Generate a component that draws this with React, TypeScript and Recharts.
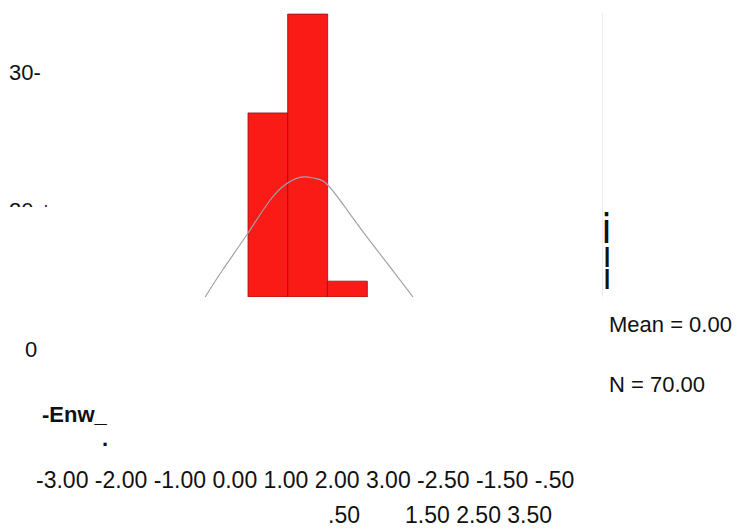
import React from 'react';
import { ComposedChart, Bar, Line, XAxis, YAxis } from 'recharts';

// histogram bins (width .50) and their counts
const bins = [
  { bin: '-.50', count: 22.85 },
  { bin: '0.00', count: 31.9 },
  { bin: '.50', count: 7.45 },
];

// normal curve, points
const curve = [
  { z: -1.04, f: 6.0 },
  { z: -0.82, f: 8.47 },
  { z: -0.5, f: 11.86 },
  { z: -0.22, f: 14.88 },
  { z: 0.0, f: 16.44 },
  { z: 0.2, f: 16.99 },
  { z: 0.35, f: 16.85 },
  { z: 0.5, f: 16.3 },
  { z: 0.75, f: 13.96 },
  { z: 1.0, f: 11.49 },
  { z: 1.29, f: 8.75 },
  { z: 1.58, f: 6.0 },
];

const yLabels = ['30-', '20 +', '0'];
const xTicksTop = ['-3.00', '-2.00', '-1.00', '0.00', '1.00', '2.00', '3.00', '-2.50', '-1.50', '-.50'];
const xTicksBottomA = ['.50'];
const xTicksBottomB = ['1.50', '2.50', '3.50'];
const stats = ['Mean = 0.00', 'N = 70.00'];
const axisTitle = '-Enw_';

const font = '"Liberation Sans", Arial, sans-serif';

const txt = (
  left: number,
  top: number,
  size = 22,
  extra: React.CSSProperties = {},
  lh = size,
): React.CSSProperties => ({
  position: 'absolute',
  left,
  top,
  fontSize: size,
  lineHeight: `${lh}px`,
  whiteSpace: 'pre',
  color: '#111',
  ...extra,
});

export default function App() {
  return (
    <div style={{ position: 'absolute', left: 0, top: 0, width: 741, height: 532, background: '#fff', fontFamily: font }}>
      {/* clipped histogram picture */}
      <div style={{ position: 'absolute', left: 195, top: 13 }}>
        <ComposedChart
          width={407}
          height={284}
          data={bins}
          margin={{ top: 0, right: 0, bottom: 0, left: 0 }}
          barCategoryGap={0}
          barGap={0}
        >
          <XAxis xAxisId="bins" dataKey="bin" hide padding={{ left: 53, right: 235 }} />
          <XAxis
            xAxisId="z"
            dataKey="z"
            type="number"
            domain={[-1.168, 3.962]}
            allowDataOverflow
            hide
          />
          <YAxis domain={[6, 32]} allowDataOverflow hide />
          <Bar
            xAxisId="bins"
            dataKey="count"
            fill="#fa1a16"
            stroke="#7d1d1d"
            strokeOpacity={0.8}
            strokeWidth={1}
            isAnimationActive={false}
          />
          <Line
            xAxisId="z"
            data={curve}
            dataKey="f"
            type="natural"
            stroke="#a2a2ae"
            strokeWidth={1.2}
            dot={false}
            activeDot={false}
            isAnimationActive={false}
          />
        </ComposedChart>
      </div>
      <div style={{ position: 'absolute', left: 602, top: 13, width: 1, height: 284, background: '#eceef6' }} />

      {/* y labels */}
      <div style={txt(9, 62)}>{yLabels[0]}</div>
      <div style={{ position: 'absolute', left: 0, top: 200, width: 80, height: 7, overflow: 'hidden' }}>
        <div style={txt(9, 0)}>{yLabels[1]}</div>
      </div>
      <div style={txt(25, 339)}>{yLabels[2]}</div>

      {/* vertical marks on the right */}
      <div style={txt(603, 213.5, 42, { fontWeight: 'bold', transform: 'scaleX(0.6)', transformOrigin: 'left' }, 30)}>i</div>
      <div style={txt(603.5, 248.3, 28, { fontWeight: 'bold', transform: 'scaleX(0.8)', transformOrigin: 'left' }, 20)}>l</div>
      <div style={txt(603.5, 270.3, 28, { fontWeight: 'bold', transform: 'scaleX(0.8)', transformOrigin: 'left' }, 20)}>l</div>

      {/* stats */}
      <div style={txt(609, 314)}>{stats[0]}</div>
      <div style={txt(609, 374)}>{stats[1]}</div>

      {/* axis title */}
      <div style={txt(42, 404, 22, { fontWeight: 'bold' })}>{axisTitle}</div>
      <div style={txt(102, 428, 22, { fontWeight: 'bold' })}>.</div>

      {/* x tick labels */}
      <div style={txt(36, 469, 23)}>{xTicksTop.join(' ')}</div>
      <div style={txt(328, 504, 23)}>{xTicksBottomA.join(' ')}</div>
      <div style={txt(405, 504, 23)}>{xTicksBottomB.join(' ')}</div>
    </div>
  );
}
